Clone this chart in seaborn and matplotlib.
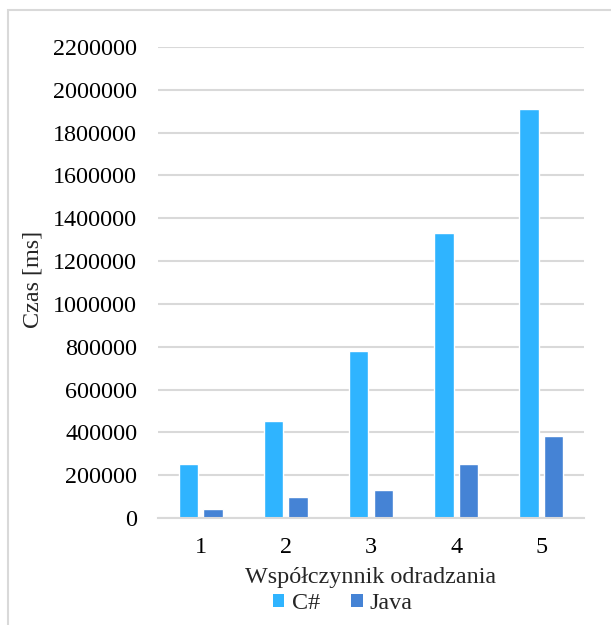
import matplotlib
matplotlib.use("Agg")
import matplotlib.pyplot as plt
from matplotlib.patches import Rectangle, Patch
import seaborn as sns
import pandas as pd

# Czas wykonania dla kolejnych współczynników odradzania
factors = ["1", "2", "3", "4", "5"]
csharp_ms = [250000, 452000, 781000, 1333000, 1912000]
java_ms = [44000, 96000, 129000, 254000, 384000]
languages = ["C#", "Java"]
colors = ["#2FB4FF", "#4583D5"]

df = pd.DataFrame({
    "factor": factors * 2,
    "lang": [languages[0]] * len(factors) + [languages[1]] * len(factors),
    "time": csharp_ms + java_ms,
})

sns.set_theme(style="white")
plt.rcParams["font.family"] = ["Liberation Serif", "DejaVu Serif"]

fig = plt.figure(figsize=(6.11, 6.25), dpi=100)
ax = fig.add_axes([0.2586, 0.1712, 0.6972, 0.7536])

sns.barplot(data=df, x="factor", y="time", hue="lang", order=factors,
            hue_order=languages, palette=colors, width=0.575, gap=0.21,
            saturation=1, ax=ax, legend=False)

ax.set_ylim(0, 2200000)
ax.set_xlim(-0.5, len(factors) - 0.5)
ax.set_yticks(range(0, 2200001, 200000))
ax.set_yticklabels([str(v) for v in range(0, 2200001, 200000)])
ax.yaxis.grid(True, color="#D9D9D9", linewidth=1.5)
ax.set_axisbelow(True)
for side in ["top", "right", "left"]:
    ax.spines[side].set_visible(False)
ax.spines["bottom"].set_color("#D9D9D9")
ax.spines["bottom"].set_linewidth(1.5)
ax.tick_params(axis="both", length=0, labelsize=17.4, colors="black")
ax.tick_params(axis="y", pad=15)
ax.tick_params(axis="x", pad=14)

ax.set_xlabel("Współczynnik odradzania", fontsize=17.4, labelpad=6)
ax.set_ylabel("Czas [ms]", fontsize=17.4)
ax.yaxis.set_label_coords(-0.268, 0.507)

handles = [Patch(facecolor=c, edgecolor="none") for c in colors]
fig.legend(handles, languages, loc="center", bbox_to_anchor=(0.561, 0.034),
           ncol=2, frameon=False, fontsize=17.4, handlelength=0.48,
           handleheight=0.48, handletextpad=0.3, columnspacing=1.3,
           borderaxespad=0)

# Ramka wokół wykresu
fig.patches.append(Rectangle((8 / 611, -0.1), 1.2, 1 - 10 / 625 + 0.1,
                             transform=fig.transFigure, fill=False,
                             edgecolor="#D9D9D9", linewidth=1.5))

fig.savefig("out.png", dpi=100)
